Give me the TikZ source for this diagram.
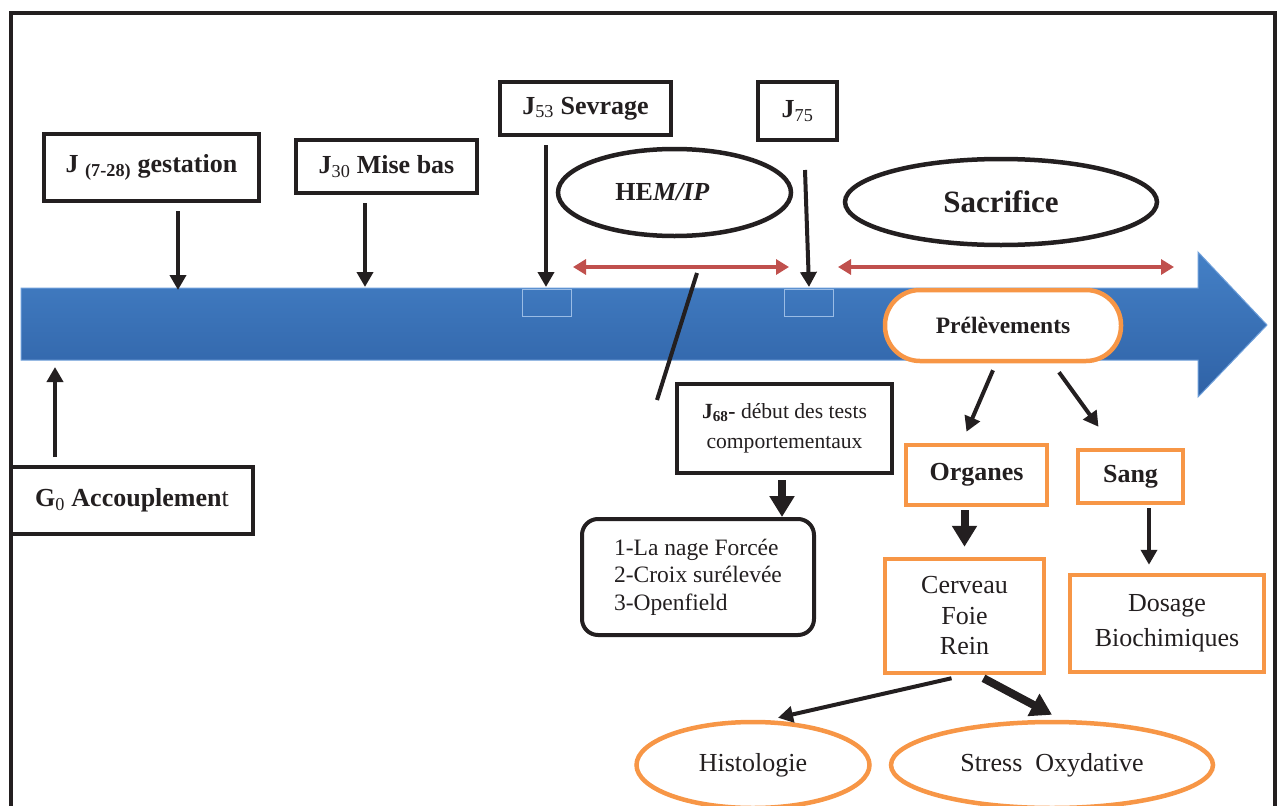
\documentclass[tikz,border=0pt]{standalone}
\usepackage{fontspec}
\setmainfont{Liberation Serif}
\usetikzlibrary{arrows.meta,shapes.geometric}
\definecolor{ink}{HTML}{231F20}
\definecolor{peach}{HTML}{F79646}
\definecolor{brick}{HTML}{C0504D}
\definecolor{bartop}{HTML}{4480C6}
\definecolor{barbot}{HTML}{2F62A6}
\definecolor{baredge}{HTML}{6E9FDA}

\begin{document}
\begin{tikzpicture}
  [x=1pt,y=-1pt,every node/.style={align=center,inner sep=0pt,text=ink}]
  \tikzstyle{blackbox} = [draw=ink,line width=4pt,fill=white,rectangle,font=\bfseries\fontsize{26}{30}\selectfont]
  \tikzstyle{blackoval} = [draw=ink,line width=4.5pt,fill=white,ellipse,font=\bfseries\fontsize{26}{30}\selectfont]
  \tikzstyle{orangebox} = [draw=peach,line width=4.5pt,fill=white,rectangle,font=\fontsize{26}{30.5}\selectfont]
  \tikzstyle{orangeoval} = [draw=peach,line width=4.5pt,fill=white,ellipse,font=\fontsize{26}{30}\selectfont]
  \tikzstyle{arr} = [draw=ink,line width=4pt,-{Triangle[length=15pt,width=16pt]}]
  \tikzstyle{bigarr} = [draw=ink,line width=8pt,-{Triangle[length=21pt,width=24pt]}]
  \tikzstyle{redarr} = [draw=brick,line width=4.5pt,{Triangle[length=13pt,width=15pt]}-{Triangle[length=13pt,width=15pt]}]

  \useasboundingbox (0,0) rectangle (1278,806);
  % frame
  \draw[ink,line width=4pt] (11,830) -- (11,13) -- (1275,13) -- (1275,830);

  % time line
  \shadedraw[top color=bartop,bottom color=barbot,draw=baredge,line width=1pt]
    (21,288) -- (1198,288) -- (1198,252) -- (1267,325) -- (1198,397) -- (1198,360) -- (21,360) -- cycle;
  \draw[baredge!70!white,line width=0.8pt] (522,289) rectangle (571,316);
  \draw[baredge!70!white,line width=0.8pt] (784,289) rectangle (833,316);

  \coordinate (d0) at (55,367);
  \coordinate (d1) at (178,290);
  \coordinate (d2) at (365,287);
  \coordinate (d3) at (546,287);
  \coordinate (d4) at (809,287);
  \coordinate (h1) at (573,267);
  \coordinate (h2) at (789,267);
  \coordinate (s1) at (838,267);
  \coordinate (s2) at (1174,267);
  \coordinate (k1) at (697,273);
  \coordinate (k2) at (657,400);

  \node[blackbox,minimum width=215pt,minimum height=67pt] (gest) at (151.5,167.5) {J \textsubscript{(7-28)} gestation};
  \node[blackbox,minimum width=181pt,minimum height=53pt] (misebas) at (386.5,166.5) {J\textsubscript{\mdseries 30} Mise bas};
  \node[blackbox,minimum width=171pt,minimum height=53pt] (sevrage) at (585.5,108.5) {J\textsubscript{\mdseries 53} Sevrage};
  \node[blackbox,minimum width=79pt,minimum height=58pt] (j75) at (797.5,111) {J\textsubscript{\mdseries 75}};
  \node[blackbox,minimum width=242pt,minimum height=67pt] (accoup) at (132,500.5) {G\textsubscript{\mdseries 0} Accouplemen{\mdseries t}};
  \node[blackoval,minimum width=233pt,minimum height=87pt] (hem) at (674.5,192.5) {HE\textit{M/IP}\hspace{24pt}};
  \node[blackoval,minimum width=312pt,minimum height=86pt,font=\bfseries\fontsize{31}{34}\selectfont] (sacrif) at (1001,202) {Sacrifice};
  \node[orangebox,minimum width=236pt,minimum height=71pt,rounded corners=35pt,font=\bfseries\fontsize{23.5}{27}\selectfont] (prelev) at (1003,325.5) {Prélèvements};
  \node[blackbox,minimum width=215pt,minimum height=89pt,font=\fontsize{21.6}{30}\selectfont] (j68) at (784.5,428.5) {{\bfseries J\textsubscript{68}-} début des tests\\comportementaux};
  \node[blackbox,minimum width=232pt,minimum height=116pt,rounded corners=16pt,align=left,font=\fontsize{23.5}{27.5}\selectfont] (tests) at (698,577) {1-La nage Forcée\\2-Croix surélevée\\3-Openfield};
  \node[orangebox,minimum width=141pt,minimum height=60pt,font=\bfseries\fontsize{26}{30}\selectfont] (organes) at (976.5,475) {Organes};
  \node[orangebox,minimum width=105pt,minimum height=53pt,font=\bfseries\fontsize{26}{30}\selectfont] (sang) at (1130.5,476.5) {Sang};
  \node[orangebox,minimum width=159pt,minimum height=114pt] (cerveau) at (964.5,616) {Cerveau\\Foie\\Rein};
  \node[orangebox,minimum width=194pt,minimum height=97pt,font=\fontsize{26}{35}\selectfont] (dosage) at (1167,623.5) {Dosage\\Biochimiques};
  \node[orangeoval,minimum width=233pt,minimum height=86pt] (histo) at (753,765) {Histologie};
  \node[orangeoval,minimum width=322pt,minimum height=86pt] (stress) at (1052,765) {Stress~ Oxydative};

\foreach \source/\dest in {gest/d1,misebas/d2,sevrage/d3}
   \draw[arr,shorten <=8pt] (\source.south -| \dest) -- (\dest);
  \draw[arr] ([xshift=7.5pt,yshift=-28pt]j75.south) -- (d4);
  \draw[arr,shorten <=8pt] (accoup.north -| d0) -- (d0);
  \draw[redarr] (h1) -- (h2);
  \draw[redarr] (s1) -- (s2);
  \draw[ink,line width=4pt] (k1) -- (k2);

  \draw[bigarr,shorten <=5pt] ([xshift=-2.5pt]j68.south) -- ([xshift=-2.5pt]j68.south |- tests.north);
  \draw[arr] ([xshift=-10pt,yshift=-7pt]prelev.south) -- ([xshift=-10pt,yshift=11pt]organes.north);
  \draw[arr] ([xshift=56pt,yshift=-9pt]prelev.south) -- ([xshift=-32pt,yshift=21pt]sang.north);
  \draw[bigarr,shorten <=3pt,shorten >=10pt] (cerveau.north |- organes.south) -- (cerveau.north);
  \draw[arr,shorten <=3pt,shorten >=8pt] ([xshift=18.5pt]sang.south) -- ([xshift=18.5pt]sang.south |- dosage.north);
  \draw[arr] ([xshift=-13pt,yshift=-3pt]cerveau.south) -- ([xshift=25pt,yshift=2pt]histo.north);
  \draw[bigarr] ([xshift=19pt,yshift=-3pt]cerveau.south) -- ([yshift=5pt]stress.north);

  \end{tikzpicture}
\end{document}
